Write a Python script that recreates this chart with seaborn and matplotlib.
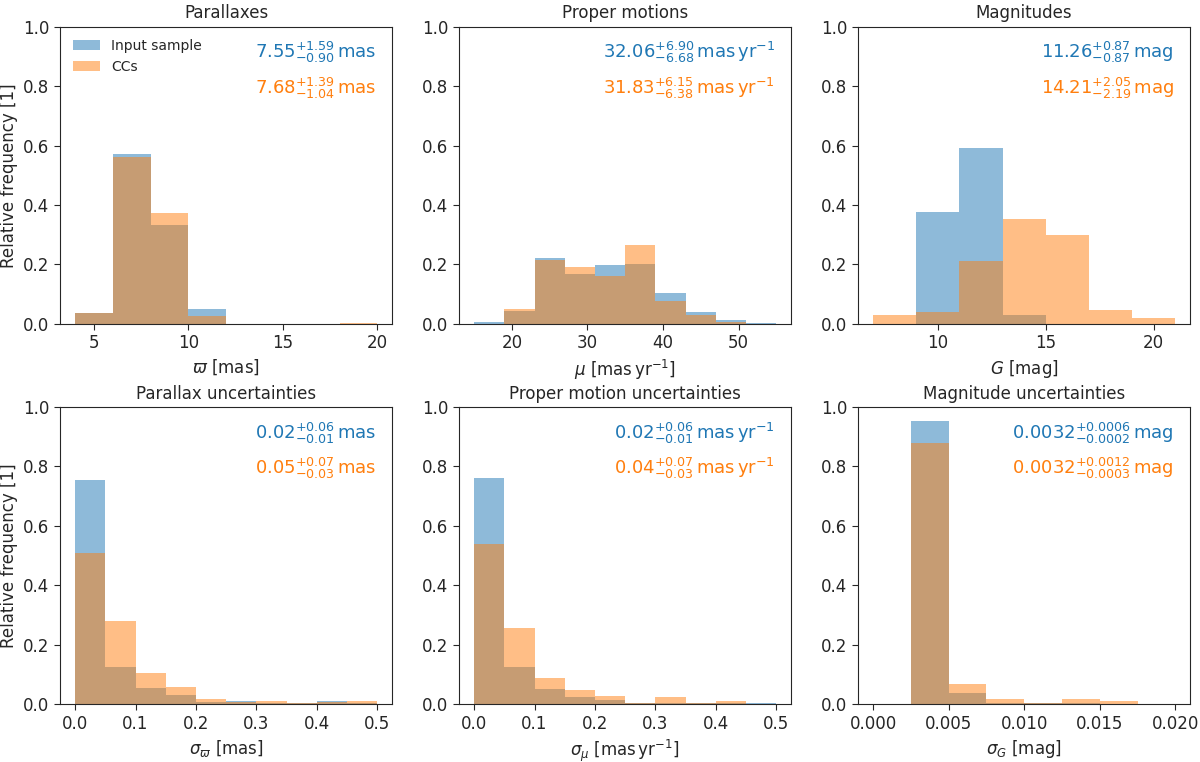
import numpy as np
import matplotlib
matplotlib.use('Agg')
import matplotlib.pyplot as plt
import seaborn as sns

# bin edges of each panel
plx_edges = [4, 6, 8, 10, 12, 14, 16, 18, 20]
pm_edges = [15, 19, 23, 27, 31, 35, 39, 43, 47, 51, 55]
mag_edges = [7, 9, 11, 13, 15, 17, 19, 21]
plx_err_edges = [0.0, 0.05, 0.1, 0.15, 0.2, 0.25, 0.3, 0.35, 0.4, 0.45, 0.5]
pm_err_edges = [0.0, 0.05, 0.1, 0.15, 0.2, 0.25, 0.3, 0.35, 0.4, 0.45, 0.5]
mag_err_edges = [0.0, 0.0025, 0.005, 0.0075, 0.01, 0.0125, 0.015, 0.0175, 0.02]

# relative frequencies
plx_input = [0.035, 0.572, 0.333, 0.050, 0.0, 0.0, 0.0, 0.0]
plx_ccs = [0.035, 0.563, 0.372, 0.025, 0.0, 0.0, 0.0, 0.004]
pm_input = [0.006, 0.043, 0.222, 0.168, 0.198, 0.202, 0.104, 0.038, 0.013, 0.002]
pm_ccs = [0.0, 0.050, 0.215, 0.190, 0.162, 0.266, 0.076, 0.030, 0.005, 0.0]
mag_input = [0.0, 0.375, 0.592, 0.030, 0.0, 0.0, 0.0]
mag_ccs = [0.030, 0.040, 0.210, 0.354, 0.298, 0.047, 0.018]
plx_err_input = [0.753, 0.125, 0.055, 0.032, 0.006, 0.010, 0.004, 0.002, 0.010, 0.003]
plx_err_ccs = [0.510, 0.278, 0.105, 0.058, 0.018, 0.006, 0.012, 0.004, 0.006, 0.012]
pm_err_input = [0.760, 0.125, 0.050, 0.025, 0.015, 0.003, 0.003, 0.005, 0.003, 0.002]
pm_err_ccs = [0.540, 0.255, 0.087, 0.047, 0.028, 0.004, 0.024, 0.003, 0.012, 0.0]
mag_err_input = [0.0, 0.953, 0.038, 0.004, 0.002, 0.002, 0.001, 0.0]
mag_err_ccs = [0.0, 0.878, 0.068, 0.018, 0.004, 0.018, 0.012, 0.0]

titles = ['Parallaxes', 'Proper motions', 'Magnitudes',
          'Parallax uncertainties', 'Proper motion uncertainties', 'Magnitude uncertainties']
xlabels = [r'$\varpi$ [mas]', r'$\mu$ [mas$\,$yr$^{-1}$]', r'$G$ [mag]',
           r'$\sigma_\varpi$ [mas]', r'$\sigma_\mu$ [mas$\,$yr$^{-1}$]', r'$\sigma_G$ [mag]']
input_stats = [r'$7.55^{+1.59}_{-0.90}\,\mathrm{mas}$',
               r'$32.06^{+6.90}_{-6.68}\,\mathrm{mas\,yr^{-1}}$',
               r'$11.26^{+0.87}_{-0.87}\,\mathrm{mag}$',
               r'$0.02^{+0.06}_{-0.01}\,\mathrm{mas}$',
               r'$0.02^{+0.06}_{-0.01}\,\mathrm{mas\,yr^{-1}}$',
               r'$0.0032^{+0.0006}_{-0.0002}\,\mathrm{mag}$']
ccs_stats = [r'$7.68^{+1.39}_{-1.04}\,\mathrm{mas}$',
             r'$31.83^{+6.15}_{-6.38}\,\mathrm{mas\,yr^{-1}}$',
             r'$14.21^{+2.05}_{-2.19}\,\mathrm{mag}$',
             r'$0.05^{+0.07}_{-0.03}\,\mathrm{mas}$',
             r'$0.04^{+0.07}_{-0.03}\,\mathrm{mas\,yr^{-1}}$',
             r'$0.0032^{+0.0012}_{-0.0003}\,\mathrm{mag}$']

panels = [
    (plx_edges, plx_input, plx_ccs),
    (pm_edges, pm_input, pm_ccs),
    (mag_edges, mag_input, mag_ccs),
    (plx_err_edges, plx_err_input, plx_err_ccs),
    (pm_err_edges, pm_err_input, pm_err_ccs),
    (mag_err_edges, mag_err_input, mag_err_ccs),
]

sns.set_style('ticks')
plt.rcParams['font.family'] = ['DejaVu Sans']
plt.rcParams['mathtext.fontset'] = 'dejavusans'
plt.rcParams['font.size'] = 12

fig, axes = plt.subplots(2, 3, figsize=(12, 7.62), dpi=100)
fig.subplots_adjust(left=0.05, right=0.992, top=0.965, bottom=0.076, wspace=0.2, hspace=0.28)

for i, (ax, (edges, inp, ccs)) in enumerate(zip(axes.flat, panels)):
    centers = [(a + b) / 2 for a, b in zip(edges[:-1], edges[1:])]
    sns.histplot(x=centers, weights=inp, bins=list(edges), color='tab:blue', alpha=0.5,
                 linewidth=0, ax=ax, label='Input sample')
    sns.histplot(x=centers, weights=ccs, bins=list(edges), color='tab:orange', alpha=0.5,
                 linewidth=0, ax=ax, label='CCs')
    ax.set_ylim(0, 1)
    ax.set_title(titles[i], fontsize=12)
    ax.set_xlabel(xlabels[i], fontsize=12)
    if i % 3 == 0:
        ax.set_ylabel('Relative frequency [1]', fontsize=12)
    else:
        ax.set_ylabel('')
    ax.tick_params(labelsize=12, length=4)
    ax.text(0.95, 0.912, input_stats[i], transform=ax.transAxes, ha='right', va='center',
            color='tab:blue', fontsize=13)
    ax.text(0.95, 0.792, ccs_stats[i], transform=ax.transAxes, ha='right', va='center',
            color='tab:orange', fontsize=13)
    if i == 0:
        ax.legend(loc='upper left', frameon=False, fontsize=10)

axes[1, 2].set_xticks([0.0, 0.005, 0.01, 0.015, 0.02])
axes[1, 2].set_xticklabels(['0.000', '0.005', '0.010', '0.015', '0.020'])

fig.savefig('out.png', dpi=100)
